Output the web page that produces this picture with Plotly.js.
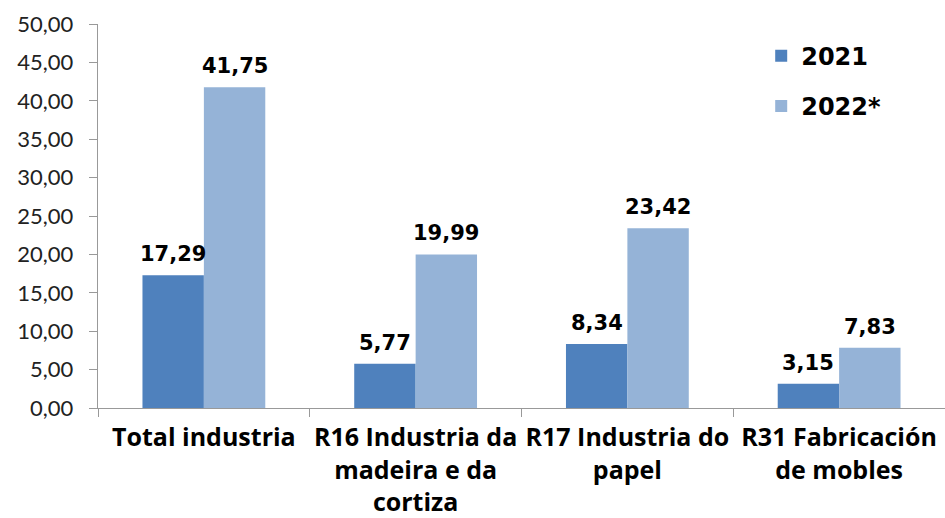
<!DOCTYPE html>
<html><head><meta charset="utf-8">
<script src="https://cdn.plot.ly/plotly-3.0.1.min.js"></script>
<style>html,body{margin:0;padding:0;background:#fff}#chart{width:945px;height:518px}</style>
</head><body><div id="chart"></div>
<script>
const categories = ["Total industria", "R16 Industria da<br>madeira e da<br>cortiza", "R17 Industria do<br>papel", "R31 Fabricación<br>de mobles"];
const values2021 = [17.29, 5.77, 8.34, 3.15];
const values2022 = [41.75, 19.99, 23.42, 7.83];
const seriesNames = ["2021", "2022*"];
const yTicks = [0, 5, 10, 15, 20, 25, 30, 35, 40, 45, 50];

const BARGAP = 0.42;
const labelFont = {family: "'DejaVu Sans', sans-serif", size: 21, color: "#000", weight: 700};
const traces = [
  {type: "bar", x: categories, y: values2021, name: seriesNames[0], legendgroup: "g1", marker: {color: "#4F81BD"}},
  {type: "bar", x: categories, y: values2022, name: seriesNames[1], legendgroup: "g2", marker: {color: "#95B3D7"}}
];
const fmt = v => v.toFixed(2).replace(".", ",");
const plotW = 945 - 98;
const halfBar = plotW / categories.length * (1 - BARGAP) / 4;
const annotations = [];
[values2021, values2022].forEach((vals, s) => {
  vals.forEach((v, i) => {
    annotations.push({x: categories[i], y: v, xref: "x", yref: "y", text: fmt(v), showarrow: false,
      xshift: (s === 0 ? -1 : 1) * halfBar, yshift: 7, yanchor: "bottom", font: labelFont});
  });
});
const layout = {
  width: 945, height: 518,
  margin: {l: 98, r: 0, t: 24, b: 110},
  paper_bgcolor: "#fff", plot_bgcolor: "#fff",
  separators: ",.",
  barmode: "group", bargap: BARGAP, bargroupgap: 0,
  showlegend: true,
  annotations: annotations,
  legend: {x: 0.783, y: 0.975, xanchor: "left", yanchor: "top", font: {family: "'DejaVu Sans', sans-serif", size: 24, color: "#000", weight: 700}, tracegroupgap: 16, itemwidth: 30},
  xaxis: {type: "category", showline: true, linecolor: "#999", linewidth: 1.3, ticks: "outside", tickson: "boundaries", ticklen: 8, tickcolor: "#999",
          ticklabelstandoff: 7, tickangle: 0,
          tickfont: {family: "'Open Sans', 'Noto Sans', sans-serif", size: 25, color: "#000", weight: 700}, showgrid: false, automargin: false},
  yaxis: {range: [0, 50], tickvals: yTicks, tickformat: ".2f", showline: true, linecolor: "#999", linewidth: 1.3, ticks: "outside", ticklen: 8, tickcolor: "#999",
          ticklabelstandoff: 11,
          tickfont: {family: "Lato, 'Noto Sans', sans-serif", size: 22, color: "#222"}, showgrid: false, zeroline: false, automargin: false}
};
Plotly.newPlot("chart", traces, layout, {displayModeBar: false, staticPlot: true});
</script></body></html>
